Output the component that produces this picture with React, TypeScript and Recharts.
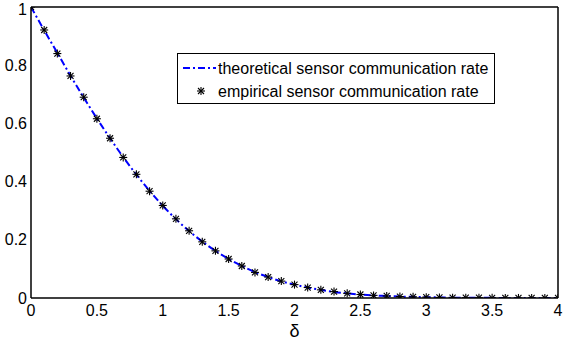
import React from 'react';
import { LineChart, Line, XAxis, YAxis, Legend } from 'recharts';

// delta grid (x)
const deltas = [
  0, 0.1, 0.2, 0.3, 0.4, 0.5, 0.6, 0.7, 0.8, 0.9,
  1, 1.1, 1.2, 1.3, 1.4, 1.5, 1.6, 1.7, 1.8, 1.9,
  2, 2.1, 2.2, 2.3, 2.4, 2.5, 2.6, 2.7, 2.8, 2.9,
  3, 3.1, 3.2, 3.3, 3.4, 3.5, 3.6, 3.7, 3.8, 3.9, 4,
];

const theoretical = [
  1.0, 0.920, 0.842, 0.764, 0.689, 0.617, 0.549, 0.484, 0.424, 0.368,
  0.317, 0.271, 0.230, 0.194, 0.162, 0.134, 0.110, 0.089, 0.072, 0.057,
  0.046, 0.036, 0.028, 0.021, 0.016, 0.012, 0.009, 0.007, 0.005, 0.004,
  0.003, 0.002, 0.001, 0.001, 0.001, 0.0005, 0.0003, 0.0002, 0.0001, 0.0001, 0.0001,
];

const empirical = [
  1.0, 0.921, 0.840, 0.763, 0.690, 0.616, 0.549, 0.483, 0.425, 0.367,
  0.318, 0.272, 0.231, 0.193, 0.162, 0.134, 0.110, 0.088, 0.072, 0.058,
  0.046, 0.036, 0.028, 0.022, 0.016, 0.012, 0.009, 0.007, 0.005, 0.004,
  0.003, 0.002, 0.001, 0.001, 0.001, 0.0005, 0.0003, 0.0002, 0.0001, 0.0001, 0.0001,
];

const xTicks = [0, 0.5, 1, 1.5, 2, 2.5, 3, 3.5, 4];
const yTicks = [0, 0.2, 0.4, 0.6, 0.8, 1];

const data = deltas.map((d, i) => ({ d, theo: theoretical[i], emp: empirical[i] }));

const FONT = '"Liberation Sans", Arial, sans-serif';
const DASH = '7 3 2 3';

const star = (cx: number, cy: number, k?: string | number) => (
  <g key={k} stroke="#000" strokeWidth={1.1}>
    <line x1={cx - 4} y1={cy} x2={cx + 4} y2={cy} />
    <line x1={cx} y1={cy - 4} x2={cx} y2={cy + 4} />
    <line x1={cx - 3} y1={cy - 3} x2={cx + 3} y2={cy + 3} />
    <line x1={cx - 3} y1={cy + 3} x2={cx + 3} y2={cy - 3} />
  </g>
);

const AsteriskDot = (props: any) => {
  const { cx, cy, index } = props;
  if (cx == null || cy == null) return <g key={index} />;
  return star(cx, cy, index);
};

const LegendBox = () => (
  <svg width={318} height={51} style={{ display: 'block', background: '#fff', border: '1px solid #000', boxSizing: 'border-box' }}>
    <line x1={5} y1={14} x2={38} y2={14} stroke="#0000ff" strokeWidth={2} strokeDasharray={DASH} />
    <text x={40} y={19.5} fontSize={16} fontFamily={FONT} fill="#000">theoretical sensor communication rate</text>
    {star(23, 37)}
    <text x={40} y={42.5} fontSize={16} fontFamily={FONT} fill="#000">empirical sensor communication rate</text>
  </svg>
);

const tickStyle = { fill: '#000', fontSize: 16, fontFamily: FONT };

export default function App() {
  return (
    <div style={{ position: 'absolute', left: 0, top: 0, width: 566, height: 340, background: '#fff' }}>
      <LineChart width={566} height={340} data={data} margin={{ top: 7, right: 8, bottom: 0, left: 0 }}>
        {/* box + inward ticks */}
        <XAxis xAxisId="bm" dataKey="d" type="number" domain={[0, 4]} allowDataOverflow ticks={xTicks} orientation="bottom" mirror height={1}
          tick={false} axisLine={false} tickLine={{ stroke: '#000' }} tickSize={5} />
        <XAxis xAxisId="tm" dataKey="d" type="number" domain={[0, 4]} allowDataOverflow ticks={xTicks} orientation="top" mirror height={1}
          tick={false} axisLine={{ stroke: '#000', strokeWidth: 1.5 }} tickLine={{ stroke: '#000' }} tickSize={5} />
        <YAxis yAxisId="lm" type="number" domain={[0, 1]} allowDataOverflow ticks={yTicks} orientation="left" mirror width={1}
          tick={false} axisLine={false} tickLine={{ stroke: '#000' }} tickSize={5} />
        <YAxis yAxisId="rm" type="number" domain={[0, 1]} allowDataOverflow ticks={yTicks} orientation="right" mirror width={1}
          tick={false} axisLine={{ stroke: '#000', strokeWidth: 1.5 }} tickLine={{ stroke: '#000' }} tickSize={5} />

        <XAxis xAxisId="x" dataKey="d" type="number" domain={[0, 4]} allowDataOverflow ticks={xTicks} height={42}
          axisLine={{ stroke: '#000', strokeWidth: 1.5 }} tickLine={false} tickSize={0} tickMargin={7}
          tick={tickStyle} tickFormatter={(v: number) => String(v)}
          label={{ value: 'δ', position: 'insideBottom', offset: 3, fill: '#000', fontSize: 18, fontFamily: FONT }} />
        <YAxis yAxisId="y" type="number" domain={[0, 1]} allowDataOverflow ticks={yTicks} width={31}
          axisLine={{ stroke: '#000', strokeWidth: 1.5 }} tickLine={false} tickSize={0} tickMargin={4}
          tick={tickStyle} tickFormatter={(v: number) => String(v)} />

        {/* invisible helpers so the box axes get a scale */}
        <Line xAxisId="bm" yAxisId="lm" dataKey="theo" stroke="none" dot={false} activeDot={false} legendType="none" isAnimationActive={false} />
        <Line xAxisId="tm" yAxisId="rm" dataKey="theo" stroke="none" dot={false} activeDot={false} legendType="none" isAnimationActive={false} />

        <Line xAxisId="x" yAxisId="y" type="monotone" dataKey="theo" stroke="#0000ff" strokeWidth={2}
          strokeDasharray={DASH} dot={false} isAnimationActive={false} />
        <Line xAxisId="x" yAxisId="y" type="linear" dataKey="emp" stroke="none" strokeWidth={0}
          dot={AsteriskDot} activeDot={false} isAnimationActive={false} />

        <Legend layout="horizontal" verticalAlign="middle" align="center" content={() => <LegendBox />}
          wrapperStyle={{ position: 'absolute', left: 177, top: 53, width: 318, height: 51 }} />
      </LineChart>
    </div>
  );
}
